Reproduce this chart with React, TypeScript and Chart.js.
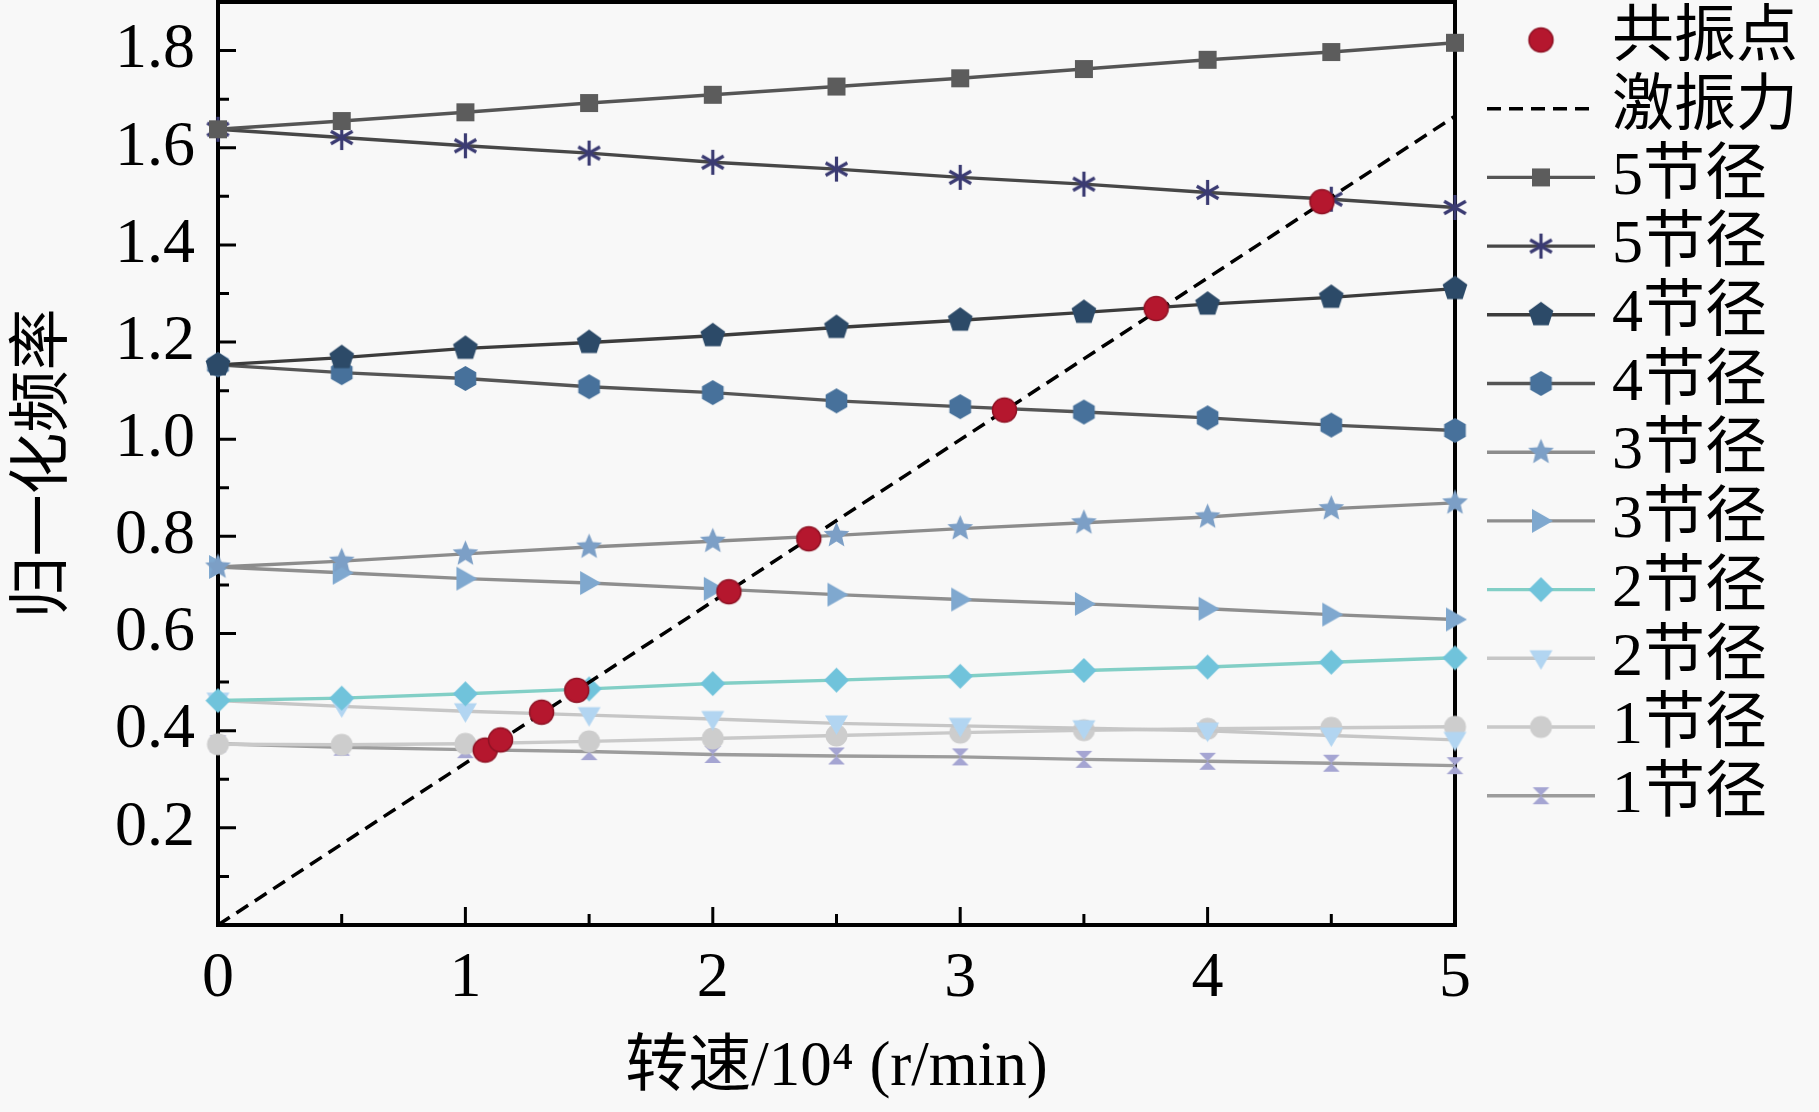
import { useEffect, useRef } from 'react'
import { Chart, registerables, type Plugin } from 'chart.js'

Chart.register(...registerables)

// ─── Data ───────────────────────────────────────────────────────────────────

// 转速 / 10^4 r/min
const SPEED = [0, 0.5, 1, 1.5, 2, 2.5, 3, 3.5, 4, 4.5, 5]

// 归一化频率 for each nodal-diameter branch
const ND5_UP   = [1.638, 1.655, 1.673, 1.692, 1.709, 1.726, 1.743, 1.762, 1.781, 1.797, 1.816]
const ND5_DOWN = [1.638, 1.621, 1.604, 1.589, 1.570, 1.556, 1.539, 1.525, 1.508, 1.494, 1.477]
const ND4_UP   = [1.153, 1.168, 1.187, 1.199, 1.213, 1.230, 1.245, 1.261, 1.278, 1.292, 1.310]
const ND4_DOWN = [1.153, 1.137, 1.125, 1.108, 1.096, 1.079, 1.067, 1.056, 1.044, 1.029, 1.018]
const ND3_UP   = [0.737, 0.749, 0.764, 0.778, 0.790, 0.802, 0.816, 0.828, 0.840, 0.857, 0.869]
const ND3_DOWN = [0.737, 0.725, 0.713, 0.704, 0.692, 0.680, 0.670, 0.661, 0.651, 0.639, 0.629]
const ND2_UP   = [0.462, 0.467, 0.476, 0.486, 0.497, 0.504, 0.512, 0.524, 0.531, 0.541, 0.550]
const ND2_DOWN = [0.462, 0.450, 0.440, 0.432, 0.424, 0.415, 0.410, 0.405, 0.400, 0.390, 0.381]
const ND1_UP   = [0.372, 0.371, 0.373, 0.378, 0.384, 0.390, 0.396, 0.401, 0.404, 0.406, 0.408]
const ND1_DOWN = [0.373, 0.366, 0.361, 0.357, 0.351, 0.348, 0.346, 0.341, 0.337, 0.333, 0.328]

// resonance points (共振点)
const RES_X = [1.080, 1.142, 1.308, 1.450, 2.065, 2.388, 3.179, 3.792, 4.462]
const RES_Y = [0.360, 0.381, 0.438, 0.483, 0.686, 0.795, 1.060, 1.269, 1.489]

// excitation line (激振力)
const EXCITE_X = [0, 5]
const EXCITE_Y = [0, 1.665]

// axes
const X_TICKS = [0, 1, 2, 3, 4, 5]
const X_MINOR = [0.5, 1.5, 2.5, 3.5, 4.5]
const Y_TICKS = [0.2, 0.4, 0.6, 0.8, 1.0, 1.2, 1.4, 1.6, 1.8]
const Y_MINOR = [0.1, 0.3, 0.5, 0.7, 0.9, 1.1, 1.3, 1.5, 1.7]

const LEGEND = ['共振点', '激振力', '5节径', '5节径', '4节径', '4节径', '3节径', '3节径', '2节径', '2节径', '1节径', '1节径']

// ─── Layout / style ──────────────────────────────────────────────────────────

const W = 1819
const H = 1112
const BG = '#f8f8f8'
const FONT = "'Liberation Serif', 'Noto Sans CJK SC', serif"

type Shape =
  | 'square' | 'asterisk' | 'pentagon' | 'hexagon' | 'star'
  | 'triRight' | 'diamond' | 'triDown' | 'circle' | 'hourglass'

// small offscreen canvas used as a Chart.js pointStyle image
function makeMarker(shape: Shape, color: string, size: number, edge?: string): HTMLCanvasElement {
  const c = document.createElement('canvas')
  const s = Math.ceil(size + 4)
  c.width = s
  c.height = s
  const g = c.getContext('2d')!
  const r = size / 2
  g.translate(s / 2, s / 2)
  g.fillStyle = color
  g.strokeStyle = edge ?? color
  g.lineJoin = 'round'

  const poly = (n: number, rot: number) => {
    for (let k = 0; k < n; k++) {
      const t = rot + (k * 2 * Math.PI) / n
      if (k) g.lineTo(r * Math.cos(t), r * Math.sin(t))
      else g.moveTo(r * Math.cos(t), r * Math.sin(t))
    }
    g.closePath()
  }

  g.beginPath()
  switch (shape) {
    case 'square':
      g.rect(-r * 0.9, -r * 0.9, r * 1.8, r * 1.8)
      break
    case 'circle':
      g.arc(0, 0, r - 0.5, 0, Math.PI * 2)
      break
    case 'pentagon':
      poly(5, -Math.PI / 2)
      break
    case 'hexagon':
      poly(6, -Math.PI / 2)
      break
    case 'diamond':
      poly(4, -Math.PI / 2)
      break
    case 'triRight':
      g.moveTo(r, 0)
      g.lineTo(-r * 0.75, -r)
      g.lineTo(-r * 0.75, r)
      g.closePath()
      break
    case 'triDown':
      g.moveTo(-r, -r * 0.7)
      g.lineTo(r, -r * 0.7)
      g.lineTo(0, r)
      g.closePath()
      break
    case 'hourglass':
      g.moveTo(-r * 0.8, -r * 0.8)
      g.lineTo(r * 0.8, -r * 0.8)
      g.lineTo(-r * 0.8, r * 0.8)
      g.lineTo(r * 0.8, r * 0.8)
      g.closePath()
      break
    case 'star':
      for (let k = 0; k < 10; k++) {
        const t = -Math.PI / 2 + (k * Math.PI) / 5
        const rr = k % 2 ? r * 0.45 : r
        if (k) g.lineTo(rr * Math.cos(t), rr * Math.sin(t))
        else g.moveTo(rr * Math.cos(t), rr * Math.sin(t))
      }
      g.closePath()
      break
    case 'asterisk':
      for (const deg of [90, 30, 150]) {
        const t = (deg * Math.PI) / 180
        g.moveTo(r * Math.cos(t), r * Math.sin(t))
        g.lineTo(-r * Math.cos(t), -r * Math.sin(t))
      }
      break
  }
  if (shape === 'asterisk') {
    g.lineWidth = 3.2
    g.stroke()
  } else {
    g.fill()
    if (edge) {
      g.lineWidth = 1.5
      g.stroke()
    }
  }
  return c
}

// ─── Plugins ─────────────────────────────────────────────────────────────────

// closed frame + inward major/minor ticks on the left and bottom axes
const framePlugin: Plugin = {
  id: 'frame',
  beforeDatasetsDraw(chart) {
    const { ctx, chartArea: a } = chart
    const x = chart.scales.x
    const y = chart.scales.y
    ctx.save()
    ctx.strokeStyle = '#000'
    ctx.lineWidth = 3
    ctx.beginPath()
    X_TICKS.forEach(v => { const p = x.getPixelForValue(v); ctx.moveTo(p, a.bottom); ctx.lineTo(p, a.bottom - 18) })
    X_MINOR.forEach(v => { const p = x.getPixelForValue(v); ctx.moveTo(p, a.bottom); ctx.lineTo(p, a.bottom - 11) })
    Y_TICKS.forEach(v => { const p = y.getPixelForValue(v); ctx.moveTo(a.left, p); ctx.lineTo(a.left + 18, p) })
    Y_MINOR.forEach(v => { const p = y.getPixelForValue(v); ctx.moveTo(a.left, p); ctx.lineTo(a.left + 11, p) })
    ctx.stroke()
    ctx.lineWidth = 4
    ctx.strokeRect(a.left, a.top, a.width, a.height)
    ctx.restore()
  },
}

// legend column to the right of the plot: line sample + marker + label
const legendPlugin: Plugin = {
  id: 'sideLegend',
  afterDraw(chart) {
    const { ctx, chartArea: a } = chart
    const x0 = a.right + 32
    const x1 = a.right + 140
    const xm = (x0 + x1) / 2
    const tx = a.right + 157
    ctx.save()
    ctx.font = `62px ${FONT}`
    ctx.textBaseline = 'middle'
    ctx.textAlign = 'left'
    chart.data.datasets.forEach((ds: any, i) => {
      const yy = 40 + i * 68.7
      if (ds.showLine !== false) {
        ctx.strokeStyle = ds.borderColor
        ctx.lineWidth = ds.borderWidth
        ctx.setLineDash(ds.borderDash ?? [])
        ctx.beginPath()
        ctx.moveTo(x0, yy)
        ctx.lineTo(x1, yy)
        ctx.stroke()
        ctx.setLineDash([])
      }
      const img = ds.pointStyle
      if (img instanceof HTMLCanvasElement) {
        ctx.drawImage(img, xm - img.width / 2, yy - img.height / 2)
      }
      ctx.fillStyle = '#000'
      ctx.fillText(ds.label, tx, yy)
    })
    ctx.restore()
  },
}

// ─── Component ───────────────────────────────────────────────────────────────

export default function App() {
  const canvasRef = useRef<HTMLCanvasElement>(null)

  useEffect(() => {
    const canvas = canvasRef.current
    if (!canvas) return

    const pts = (ys: number[], xs: number[] = SPEED) => xs.map((x, i) => ({ x, y: ys[i] }))

    const branch = (
      label: string, data: number[], line: string,
      shape: Shape, fill: string, size: number,
    ) => ({
      label,
      data: pts(data),
      borderColor: line,
      borderWidth: 3.4,
      pointStyle: makeMarker(shape, fill, size),
      pointRadius: size / 2,
      clip: false as const,
      tension: 0,
    })

    const datasets: any[] = [
      {
        label: LEGEND[0],
        data: pts(RES_Y, RES_X),
        showLine: false,
        borderColor: '#b3162c',
        pointStyle: makeMarker('circle', '#b5172e', 25, '#8e1224'),
        pointRadius: 12,
        clip: false,
      },
      {
        label: LEGEND[1],
        data: pts(EXCITE_Y, EXCITE_X),
        borderColor: '#000',
        borderWidth: 3.5,
        borderDash: [14, 8],
        pointRadius: 0,
        clip: false,
      },
      branch(LEGEND[2],  ND5_UP,   '#555555', 'square',    '#5c5c5c', 20),
      branch(LEGEND[3],  ND5_DOWN, '#474747', 'asterisk',  '#3b3b72', 25),
      branch(LEGEND[4],  ND4_UP,   '#3c3c3c', 'pentagon',  '#2c4a68', 26),
      branch(LEGEND[5],  ND4_DOWN, '#555555', 'hexagon',   '#47719b', 25),
      branch(LEGEND[6],  ND3_UP,   '#8c8c8c', 'star',      '#7c9fc6', 27),
      branch(LEGEND[7],  ND3_DOWN, '#8e8e8e', 'triRight',  '#7fa8cf', 24),
      branch(LEGEND[8],  ND2_UP,   '#82cfc6', 'diamond',   '#70c3db', 25),
      branch(LEGEND[9],  ND2_DOWN, '#c6c6c6', 'triDown',   '#b2d5f1', 23),
      branch(LEGEND[10], ND1_UP,   '#c9c9c9', 'circle',    '#cdcdcd', 23),
      branch(LEGEND[11], ND1_DOWN, '#9c9c9c', 'hourglass', '#a5a5d2', 21),
    ]

    const chart = new Chart(canvas, {
      type: 'line',
      data: { datasets },
      plugins: [framePlugin, legendPlugin],
      options: {
        animation: false,
        responsive: false,
        events: [],
        layout: { autoPadding: false, padding: { top: 2, right: W - 1455, bottom: 0, left: 0 } },
        plugins: {
          legend: { display: false },
          tooltip: { enabled: false },
        },
        scales: {
          x: {
            type: 'linear',
            min: 0,
            max: 5,
            afterBuildTicks: (s: any) => { s.ticks = X_TICKS.map(value => ({ value })) },
            afterFit: (s: any) => { s.height = H - 925; s.paddingLeft = 0; s.paddingRight = 0 },
            ticks: {
              autoSkip: false,
              maxRotation: 0,
              padding: 16,
              color: '#000',
              font: { family: FONT, size: 64 },
              callback: (v: any) => String(v),
            },
            grid: { display: false, drawTicks: false },
            border: { display: false },
            title: {
              display: true,
              text: '转速/10⁴ (r/min)',
              color: '#000',
              font: { family: FONT, size: 63, lineHeight: 1 },
              padding: { top: 0, bottom: 12 },
            },
          },
          y: {
            type: 'linear',
            min: 0,
            max: 1.9,
            afterBuildTicks: (s: any) => { s.ticks = Y_TICKS.map(value => ({ value })) },
            afterFit: (s: any) => { s.width = 218; s.paddingTop = 0; s.paddingBottom = 0 },
            ticks: {
              autoSkip: false,
              padding: 23,
              color: '#000',
              font: { family: FONT, size: 64 },
              callback: (v: any) => Number(v).toFixed(1),
            },
            grid: { display: false, drawTicks: false },
            border: { display: false },
            title: {
              display: true,
              text: '归一化频率',
              color: '#000',
              font: { family: FONT, size: 62, lineHeight: 1 },
              padding: { top: 15, bottom: 0 },
            },
          },
        },
      },
    })

    return () => {
      chart.destroy()
    }
  }, [])

  return (
    <div style={{ position: 'fixed', left: 0, top: 0, width: W, height: H, background: BG }}>
      <canvas ref={canvasRef} width={W} height={H} style={{ display: 'block' }} />
    </div>
  )
}
